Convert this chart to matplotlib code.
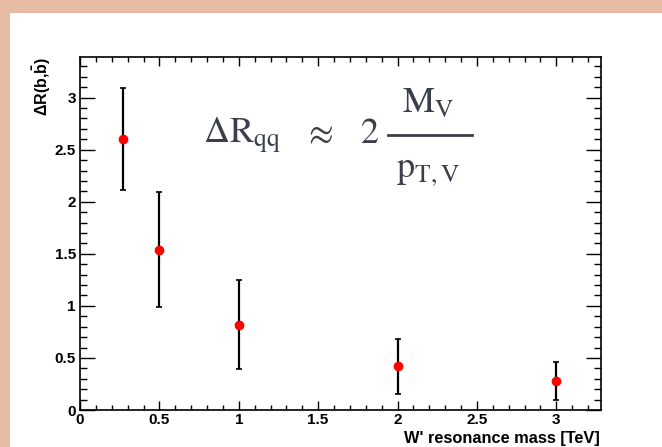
import matplotlib
matplotlib.use("Agg")
import matplotlib.pyplot as plt
from matplotlib.patches import Rectangle
from matplotlib.lines import Line2D
from matplotlib.ticker import MultipleLocator

# W' mass points [TeV] and Delta R(b, bbar) with errors
mass = [0.27, 0.5, 1.0, 2.0, 3.0]
dr = [2.60, 1.54, 0.82, 0.42, 0.28]
dr_err = [0.49, 0.555, 0.43, 0.265, 0.18]

plt.rcParams['font.family'] = ['Liberation Sans', 'DejaVu Sans']
plt.rcParams['mathtext.fontset'] = 'custom'
plt.rcParams['mathtext.rm'] = 'Liberation Sans:bold'
plt.rcParams['mathtext.bf'] = 'Liberation Sans:bold'
plt.rcParams['mathtext.it'] = 'Liberation Sans:bold'

W, H = 662, 447
fig = plt.figure(figsize=(W / 100, H / 100), dpi=100)
fig.patch.set_facecolor('#e8bca4')
# white slide panel
fig.patches.append(Rectangle((10 / W, 0), 1, (H - 13) / H, transform=fig.transFigure,
                             facecolor='white', edgecolor='none', zorder=-5))

ax = fig.add_axes([80 / W, 37 / H, 520.7 / W, 353 / H])
ax.set_zorder(2)
ax.set_facecolor('white')

ax.errorbar(mass, dr, yerr=dr_err, fmt='o', color='red', ms=6, mec='red',
            ecolor='black', elinewidth=1.6, capsize=2, capthick=1.2, zorder=3)

ax.set_xlim(0, 3.28)
ax.set_ylim(0, 3.39)
ax.xaxis.set_major_locator(MultipleLocator(0.5))
ax.xaxis.set_minor_locator(MultipleLocator(0.1))
ax.yaxis.set_major_locator(MultipleLocator(0.5))
ax.yaxis.set_minor_locator(MultipleLocator(0.1))
ax.set_xticks([0, 0.5, 1, 1.5, 2, 2.5, 3])
ax.set_xticklabels(['0', '0.5', '1', '1.5', '2', '2.5', '3'], fontweight='bold')
ax.set_yticks([0, 0.5, 1, 1.5, 2, 2.5, 3])
ax.set_yticklabels(['0', '0.5', '1', '1.5', '2', '2.5', '3'], fontweight='bold')

ax.tick_params(axis='both', which='both', direction='in', top=True, right=True,
               color='black', width=1)
ax.tick_params(axis='y', which='major', length=11, pad=3, labelsize=11)
ax.tick_params(axis='y', which='minor', length=5)
ax.tick_params(axis='x', which='major', length=6.5, pad=2, labelsize=11)
ax.tick_params(axis='x', which='minor', length=3.5)
for s in ax.spines.values():
    s.set_linewidth(1.2)

fig.text(600 / W, (H - 438) / H, "W' resonance mass [TeV]", ha='right',
         va='center', fontsize=11.8, fontweight='bold')
fig.text(41.5 / W, (H - 57) / H, r'$\Delta$R(b,$\bar{\mathrm{b}}$)', rotation=90,
         ha='center', va='top', fontsize=11.5, fontweight='bold')

# formula, placed piece by piece
fcol = '#3a3f4a'
fkw = dict(fontsize=26, color=fcol, math_fontfamily='stix', zorder=5)
fig.text(203 / W, (H - 143) / H, r'$\Delta\mathrm{R}_{\mathrm{qq}}$', ha='left', va='baseline', **fkw)
fig.text(318 / W, (H - 134) / H, r'$\approx$', ha='center', va='center', **fkw)
fig.text(360 / W, (H - 143) / H, r'$\mathrm{2}$', ha='left', va='baseline', **fkw)
fig.text(428 / W, (H - 113) / H, r'$\mathrm{M_V}$', ha='center', va='baseline', **fkw)
fig.text(428 / W, (H - 177) / H, r'$\mathrm{p_{T,V}}$', ha='center', va='baseline', **fkw)
fig.add_artist(Line2D([388 / W, 472 / W], [(H - 135) / H] * 2, transform=fig.transFigure,
                      color=fcol, lw=2, zorder=5))

fig.savefig('out.png', dpi=100, facecolor=fig.get_facecolor())
